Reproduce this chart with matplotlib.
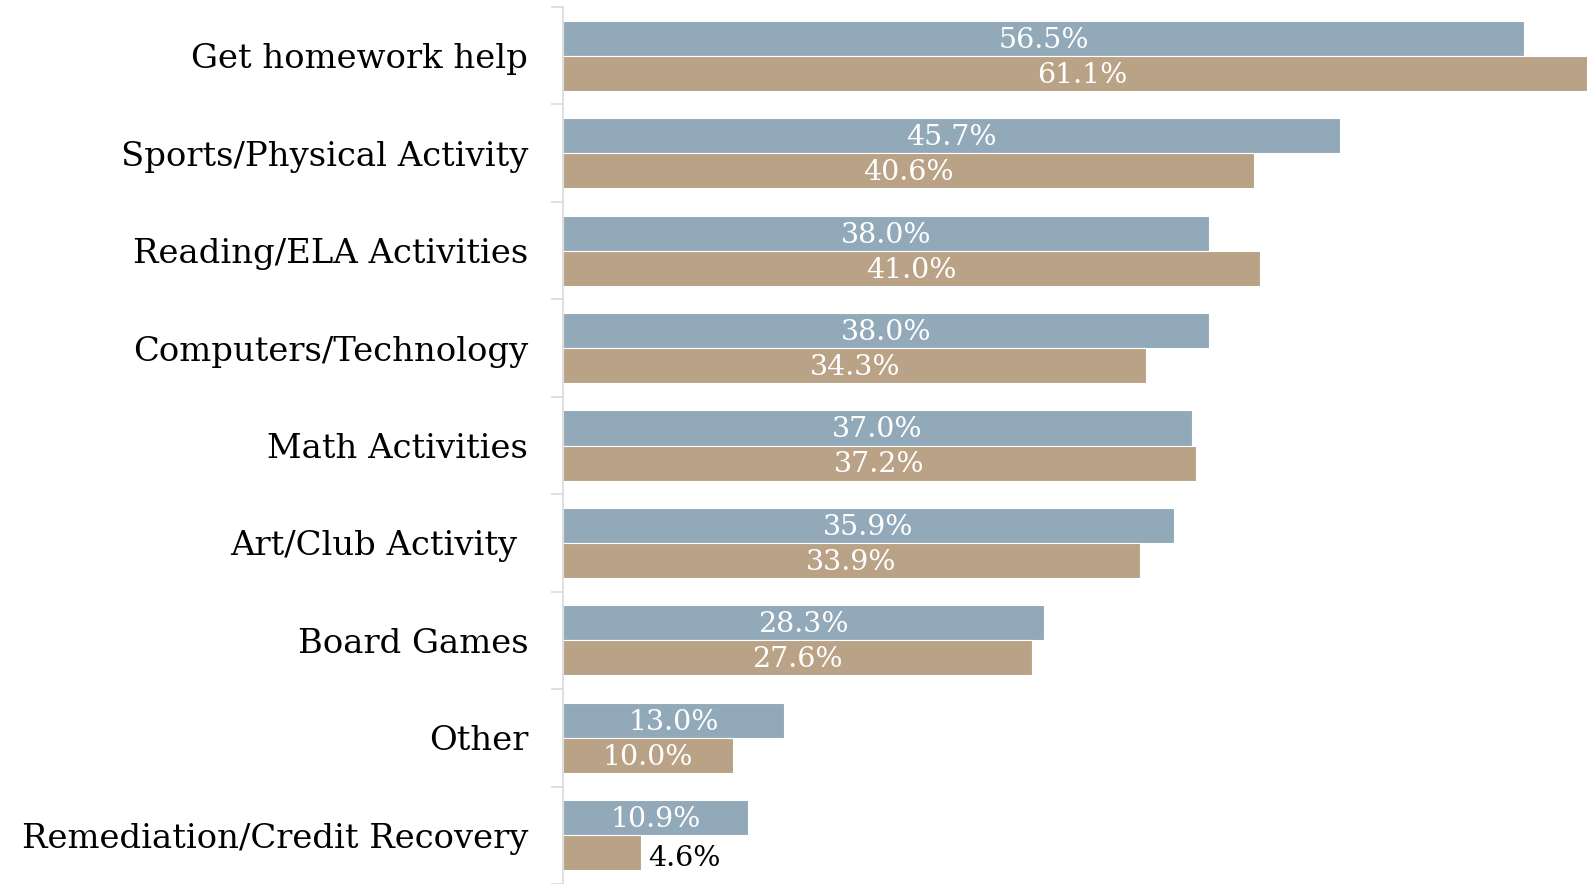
import matplotlib
matplotlib.use("Agg")
import matplotlib.pyplot as plt
import numpy as np

categories = ["Get homework help", "Sports/Physical Activity", "Reading/ELA Activities",
              "Computers/Technology", "Math Activities", "Art/Club Activity ",
              "Board Games", "Other", "Remediation/Credit Recovery"]
series_a = [56.5, 45.7, 38.0, 38.0, 37.0, 35.9, 28.3, 13.0, 10.9]
series_b = [61.1, 40.6, 41.0, 34.3, 37.2, 33.9, 27.6, 10.0, 4.6]

color_a = "#91a9b9"
color_b = "#baa286"
font = "DejaVu Serif"

fig = plt.figure(figsize=(15.87, 8.84), dpi=100)
ax = fig.add_axes([563/1587, 0, 1 - 563/1587, 1 - 7/884])

y = np.arange(len(categories))
h = 0.36
bars_a = ax.barh(y - h/2, series_a, height=h, color=color_a, edgecolor="white", linewidth=0.8)
bars_b = ax.barh(y + h/2, series_b, height=h, color=color_b, edgecolor="white", linewidth=0.8)

ax.set_xlim(0, 60.2)
ax.set_ylim(8.38, -0.5)

for bars, vals in ((bars_a, series_a), (bars_b, series_b)):
    for b, v in zip(bars, vals):
        yc = b.get_y() + b.get_height()/2 + 0.02
        if v >= 8:
            ax.text(v/2, yc, f"{v:.1f}%", ha="center", va="center", color="white",
                    fontsize=20.5, family=font)
        else:
            ax.text(v + 0.4, yc + 0.04, f"{v:.1f}%", ha="left", va="center", color="black",
                    fontsize=20.5, family=font)

ax.set_yticks(y)
ax.set_yticklabels(categories, fontsize=24.4, family=font)
ax.tick_params(axis="y", which="major", length=0, pad=25)
ax.set_yticks(np.arange(len(categories) + 1) - 0.5, minor=True)
ax.tick_params(axis="y", which="minor", length=9, color="#d9d9d9", width=1.2)
ax.set_xticks([])
for s in ("top", "right", "bottom"):
    ax.spines[s].set_visible(False)
ax.spines["left"].set_color("#d9d9d9")
ax.spines["left"].set_linewidth(1.2)

fig.savefig("out.png", dpi=100)
